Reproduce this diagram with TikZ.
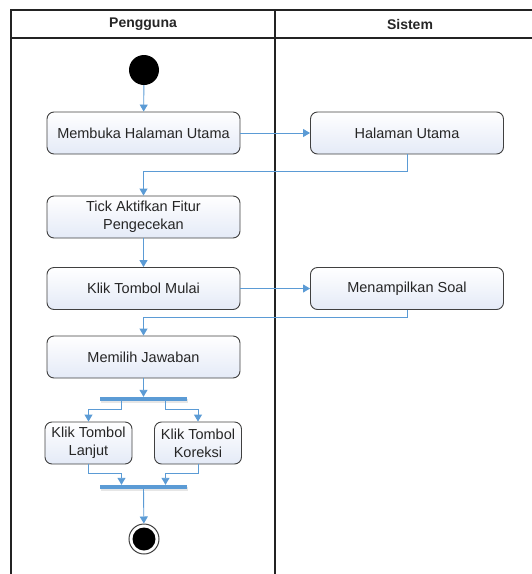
\documentclass[tikz,border=0pt]{standalone}
\usepackage{fontspec}
\setmainfont{Liberation Sans}
\usetikzlibrary{arrows.meta,positioning,shadows}
\definecolor{flowblue}{RGB}{91,155,213}
\definecolor{boxline}{RGB}{64,64,64}
\definecolor{boxfill}{RGB}{228,234,247}
\definecolor{lanegray}{RGB}{35,35,35}

\tikzset{
  act/.style={rectangle,rounded corners=7pt,draw=boxline,line width=0.9pt,
    top color=white,bottom color=boxfill,minimum width=193pt,minimum height=42pt,
    inner sep=2pt,align=center,text=black!85,font=\fontsize{14.5}{18}\selectfont},
  smallact/.style={act,minimum width=87pt},
  bar/.style={rectangle,fill=flowblue,minimum width=87pt,minimum height=4pt,inner sep=0pt,
    drop shadow={opacity=0.2,shadow xshift=1pt,shadow yshift=-1.5pt}},
  flow/.style={->,draw=flowblue,line width=0.9pt},
  lane/.style={draw=lanegray,line width=1.6pt},
  lanetitle/.style={font=\bfseries\fontsize{14}{16}\selectfont,text=black!85}
}

\begin{document}
\begin{tikzpicture}[x=1pt,y=-1pt,>={Triangle[length=7pt,width=8pt]},node distance=263.5pt]
  \useasboundingbox (0,0) rectangle (532,574);
  % swimlanes
  \draw[lane] (11,574) -- (11,10) -- (532,10);
  \draw[lane] (11,38) -- (532,38);
  \draw[lane] (275,10) -- (275,574);
  \node[lanetitle] (P) at (143,24) {Pengguna};
  \node[lanetitle] (Q) at (410,24) {Sistem};

  \node[circle,fill=black,minimum size=30pt,inner sep=0pt] (S) at (144,70) {};
  \node[act]      (A) at (143.5,133)    {Membuka Halaman Utama};
  \node[act]      (B) [right of=A]      {Halaman Utama};
  \node[act]      (C) at (143.5,217)    {Tick Aktifkan Fitur\\Pengecekan};
  \node[act]      (D) at (143.5,288.5)  {Klik Tombol Mulai};
  \node[act]      (E) [right of=D]      {Menampilkan Soal};
  \node[act]      (F) at (143.5,357)    {Memilih Jawaban};
  \node[bar]      (F1) at (143.5,399)   {};
  \node[smallact] (G) at (88.5,443)     {Klik Tombol\\Lanjut};
  \node[smallact] (H) at (198,443)      {Klik Tombol\\Koreksi};
  \node[bar]      (J1) at (143.5,487)   {};
  \node[circle,draw=black!75,line width=1pt,fill=white,minimum size=30pt,inner sep=0pt] (K) at (144,539) {};
  \node[circle,fill=black,minimum size=23pt,inner sep=0pt] (K2) at (K) {};

  \draw[flow] (S) -- (A);
  \draw[flow] (A) -- (B);
  \draw[flow] (B.south) -- ++(0,17) -| (C.north);
  \draw[flow] (C) -- (D);
  \draw[flow] (D) -- (E);
  \draw[flow] (E.south) -- ++(0,7) -| (F.north);
  \draw[flow] (F) -- (F1);
  \draw[flow] ([xshift=-22pt]F1.south) -- ++(0,8) -| (G.north);
  \draw[flow] ([xshift=22pt]F1.south) -- ++(0,8) -| (H.north);
  \draw[flow] (G.south) -- ++(0,9) -| ([xshift=-22pt]J1.north);
  \draw[flow] (H.south) -- ++(0,9) -| ([xshift=22pt]J1.north);
  \draw[flow] (J1) -- (K);
\end{tikzpicture}
\end{document}
